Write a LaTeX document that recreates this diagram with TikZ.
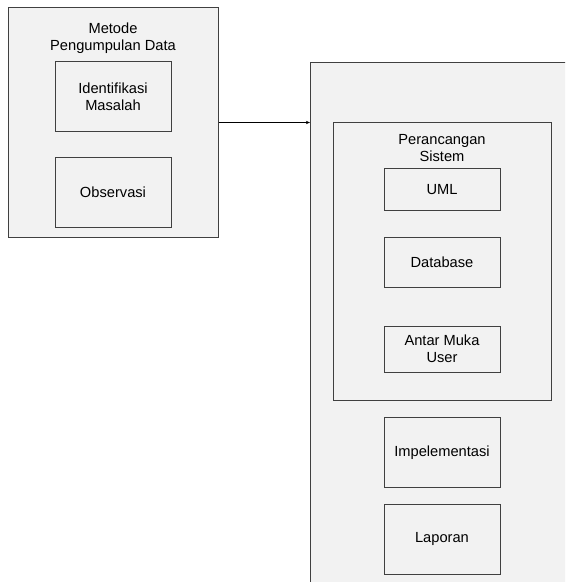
\documentclass[tikz,border=0pt]{standalone}
\usepackage{fontspec}
\setmainfont{Liberation Sans}
\usetikzlibrary{arrows.meta}
\definecolor{boxgray}{HTML}{F2F2F2}
\definecolor{linegray}{HTML}{404040}
\tikzset{
  box/.style={draw=linegray, fill=boxgray, line width=0.6pt, inner sep=0pt, align=center},
  label/.style={inner sep=0pt, align=center}
}
\begin{document}
\begin{tikzpicture}[x=0.75pt, y=-0.75pt, font=\fontsize{11}{12.75}\selectfont]
\useasboundingbox (0,0) rectangle (565,582);
\clip (0,0) rectangle (565,582);
\fill[white] (0,0) rectangle (565,582);

% left group
\node[box, minimum width=157pt, minimum height=173pt] (metode) at (113.5,122.5) {};
\node[label] (ttlmetode) at (113,38) {Metode\\Pengumpulan Data};
\node[box, minimum width=87pt, minimum height=52pt] (identifikasi) at (113,96.5) {Identifikasi\\Masalah};
\node[box, minimum width=87pt, minimum height=52.5pt] (observasi) at (113,192) {Observasi};

% right group
\node[box, minimum width=202pt, minimum height=403pt] (hasil) at (445,331) {};
\node[box, minimum width=164pt, minimum height=209pt] (rancang) at (442.5,261.5) {};
\node[label] (ttlrancang) at (442,148) {Perancangan\\Sistem};
\node[box, minimum width=87pt, minimum height=32pt] (uml) at (442,189.5) {UML};
\node[box, minimum width=87pt, minimum height=37pt] (database) at (442,262.5) {Database};
\node[box, minimum width=87pt, minimum height=34.5pt] (antarmuka) at (442,349) {Antar Muka\\User};
\node[box, minimum width=87pt, minimum height=52pt] (implementasi) at (442,452.5) {Impelementasi};
\node[box, minimum width=87pt, minimum height=52.5pt] (laporan) at (442,539) {Laporan};

\draw[-{Stealth[length=3pt,width=2.5pt]}, line width=0.5pt] (metode.east) -- (metode.east -| hasil.west);
\end{tikzpicture}
\end{document}
